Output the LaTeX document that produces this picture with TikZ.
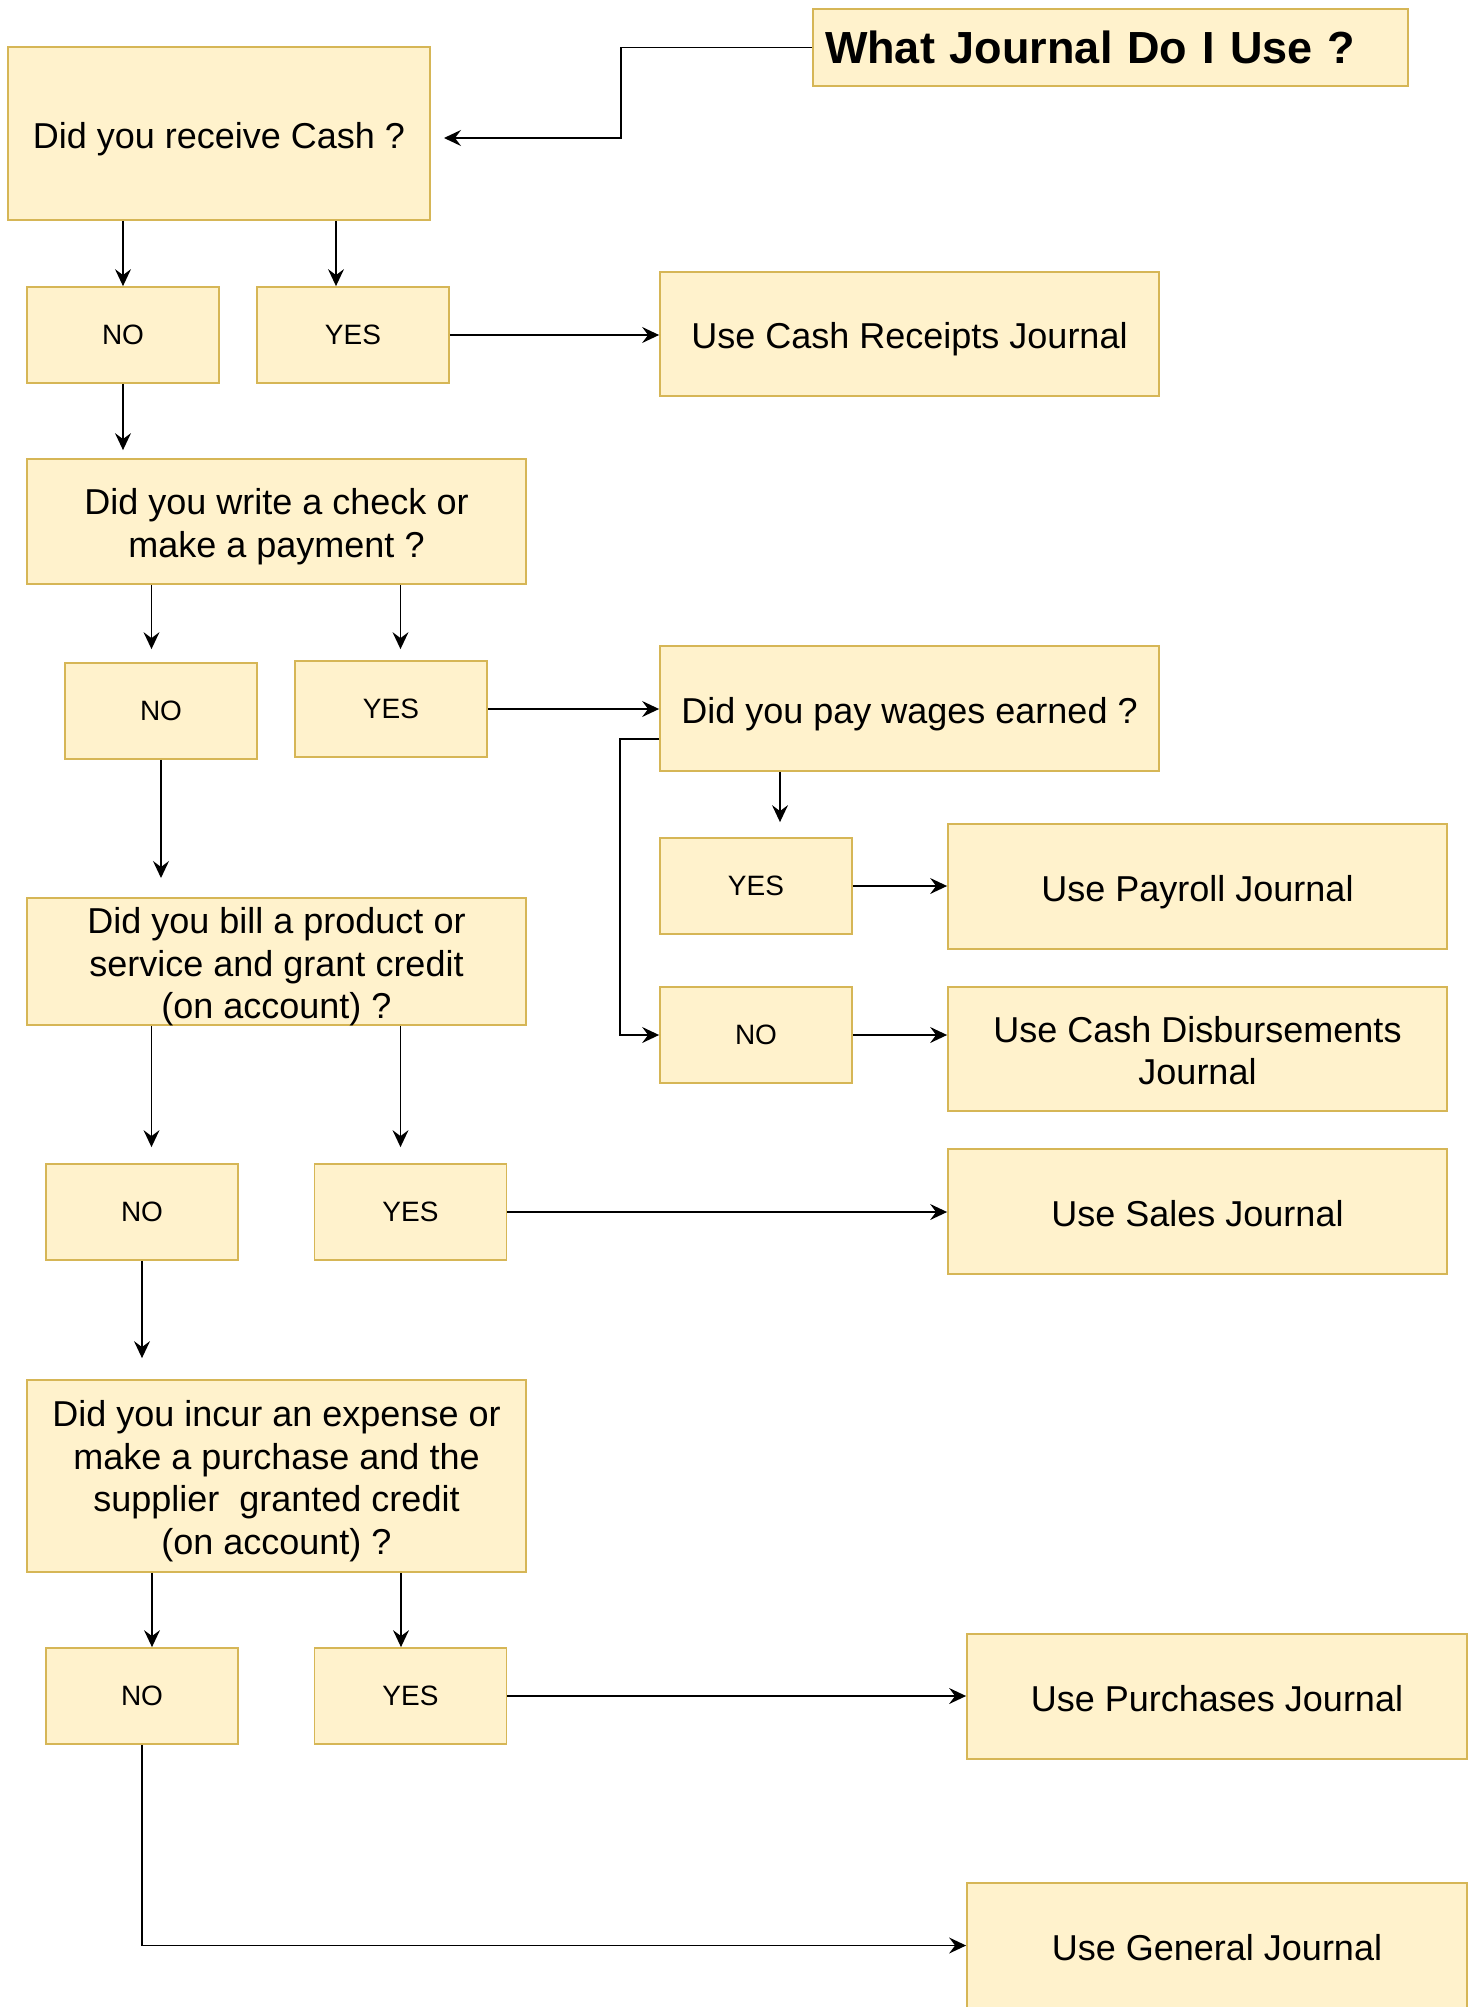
\documentclass[tikz,border=0pt]{standalone}
\usepackage{fontspec}
\setmainfont{Liberation Sans}
\usetikzlibrary{arrows.meta,calc}
\definecolor{boxfill}{HTML}{FFF2CC}
\definecolor{boxline}{HTML}{D6B656}
\begin{document}
\begin{tikzpicture}[x=1pt,y=-1pt,
  box/.style={draw=boxline, fill=boxfill, line width=1.8pt, inner sep=0pt, align=center,
    font=\fontsize{36}{42.4}\selectfont, text height=35.7pt, text depth=6.7pt},
  two/.style={text height=78.1pt},
  three/.style={text height=120.5pt},
  four/.style={text height=162.9pt},
  small/.style={box, font=\fontsize{28}{33}\selectfont, text height=26.3pt, text depth=6.7pt,
    minimum width=192pt, minimum height=96pt},
  titlebox/.style={box, font=\fontsize{45}{54}\selectfont\bfseries, text height=43pt, text depth=11pt,
    align=left, inner xsep=12pt},
  conn/.style={draw=black, line width=1.5pt, -{Stealth[length=17pt,width=16pt,inset=6pt]}}
]
\useasboundingbox (0,0) rectangle (1469,2007);

% boxes
\node[titlebox, text width=571pt, minimum height=77pt] (title) at (1110.5,47.5) {What Journal Do I Use ?};
\node[box, minimum width=422pt, minimum height=173pt] (q1) at (219,133.5) {Did you receive Cash ?};
\node[small] (no1) at (123,335) {NO};
\node[small] (yes1) at (353,335) {YES};
\node[box, minimum width=499pt, minimum height=124pt] (cashrec) at (909.5,334) {Use Cash Receipts Journal};

\node[box, two, minimum width=499pt, minimum height=125pt] (q2) at (276.5,521.5) {Did you write a check or\\make a payment ?};
\node[small] (no2) at (161,711) {NO};
\node[small] (yes2) at (391,709) {YES};
\node[box, minimum width=499pt, minimum height=125pt] (wages) at (909.5,708.5) {Did you pay wages earned ?};
\node[small] (yes3) at (756,886) {YES};
\node[box, minimum width=499pt, minimum height=125pt] (payroll) at (1197.5,886.5) {Use Payroll Journal};
\node[small] (no3) at (756,1035) {NO};
\node[box, two, minimum width=499pt, minimum height=124pt] (cashdisb) at (1197.5,1049) {Use Cash Disbursements\\Journal};

\node[box, three, minimum width=499pt, minimum height=125pt] (q3) at (276.5,961.5) {Did you bill a product or\\service and grant credit\\(on account) ?};
\node[small] (no4) at (142,1212) {NO};
\node[small] (yes4) at (410.5,1212) {YES};
\node[box, minimum width=499pt, minimum height=125pt] (sales) at (1197.5,1211.5) {Use Sales Journal};

\node[box, four, minimum width=499pt, minimum height=192pt] (q4) at (276.5,1476) {Did you incur an expense or\\make a purchase and the\\supplier\ \ granted credit\\(on account) ?};
\node[small] (no5) at (142,1696) {NO};
\node[small] (yes5) at (410.5,1696) {YES};
\node[box, minimum width=500pt, minimum height=125pt] (purchases) at (1217,1696.5) {Use Purchases Journal};
\node[box, minimum width=500pt, minimum height=125pt] (general) at (1217,1945.5) {Use General Journal};

% connectors
\coordinate (q1in) at (444,138);
\draw[conn] (title.west) -| ($(q1in)+(177,0)$) -- (q1in);
\draw[conn] (q1.south -| no1.north) -- (no1.north);
\coordinate (yes1in) at ($(yes1.north)+(-17,0)$);
\draw[conn] (q1.south -| yes1in) -- (yes1in);
\draw[conn] (yes1.east) -- (yes1.east -| cashrec.west);
\draw[conn, shorten >=8pt] (no1.south) -- (no1.south |- q2.north);

\coordinate (no2in) at ($(no2.north)+(-9.5,0)$);
\draw[conn, shorten >=13pt] (q2.south -| no2in) -- (no2in);
\coordinate (yes2in) at ($(yes2.north)+(9.5,0)$);
\draw[conn, shorten >=11pt] (q2.south -| yes2in) -- (yes2in);
\draw[conn] (yes2.east) -- (yes2.east -| wages.west);
\coordinate (yes3in) at ($(yes3.north)+(24,0)$);
\draw[conn, shorten >=15pt] (wages.south -| yes3in) -- (yes3in);
\coordinate (wout) at ($(wages.west)+(0,30.5)$);
\draw[conn] (wout) -- ++(-39,0) |- (no3.west);
\draw[conn] (yes3.east) -- (yes3.east -| payroll.west);
\draw[conn] (no3.east) -- (no3.east -| cashdisb.west);

\draw[conn, shorten >=19pt] (no2.south) -- (no2.south |- q3.north);
\coordinate (no4in) at ($(no4.north)+(9.5,0)$);
\draw[conn, shorten >=16pt] (q3.south -| no4in) -- (no4in);
\coordinate (yes4in) at ($(yes4.north)+(-10,0)$);
\draw[conn, shorten >=16pt] (q3.south -| yes4in) -- (yes4in);
\draw[conn] (yes4.east) -- (yes4.east -| sales.west);

\draw[conn, shorten >=21pt] (no4.south) -- (no4.south |- q4.north);
\coordinate (no5in) at ($(no5.north)+(10,0)$);
\draw[conn] (q4.south -| no5in) -- (no5in);
\coordinate (yes5in) at ($(yes5.north)+(-9.5,0)$);
\draw[conn] (q4.south -| yes5in) -- (yes5in);
\draw[conn] (yes5.east) -- (yes5.east -| purchases.west);
\draw[conn] (no5.south) |- (general.west);
\end{tikzpicture}
\end{document}
